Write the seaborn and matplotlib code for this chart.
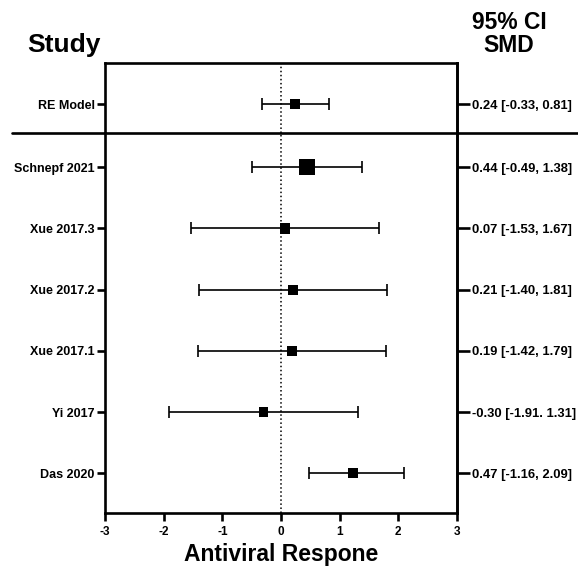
import numpy as np
import pandas as pd
import matplotlib
matplotlib.use('Agg')
import matplotlib.pyplot as plt
from matplotlib.lines import Line2D
import seaborn as sns

# данные forest plot
studies = ['Schnepf 2021', 'Xue 2017.3', 'Xue 2017.2', 'Xue 2017.1', 'Yi 2017', 'Das 2020']
smd = [0.44, 0.07, 0.21, 0.19, -0.30, 1.23]
ci_low = [-0.49, -1.53, -1.40, -1.42, -1.91, 0.47]
ci_high = [1.38, 1.67, 1.81, 1.79, 1.31, 2.09]
weights = [26.0, 15.0, 15.0, 15.0, 14.0, 15.0]
ci_labels = ['0.44 [-0.49, 1.38]', '0.07 [-1.53, 1.67]', '0.21 [-1.40, 1.81]',
             '0.19 [-1.42, 1.79]', '-0.30 [-1.91. 1.31]', '0.47 [-1.16, 2.09]']

pooled_name = ['RE Model']
pooled_smd = [0.24]
pooled_low = [-0.33]
pooled_high = [0.81]
pooled_weight = [15.0]
pooled_labels = ['0.24 [-0.33, 0.81]']

x_ticks = [-3, -2, -1, 0, 1, 2, 3]

sns.set_style('ticks')
plt.rcParams['font.family'] = ['Liberation Sans', 'DejaVu Sans']
plt.rcParams['font.weight'] = 'bold'
for key in ['axes.edgecolor', 'text.color', 'xtick.color', 'ytick.color', 'axes.labelcolor']:
    plt.rcParams[key] = 'black'

df = pd.DataFrame({'study': studies, 'smd': smd, 'low': ci_low, 'high': ci_high,
                   'weight': weights, 'label': ci_labels})
df['row'] = np.arange(len(df))
pool = pd.DataFrame({'study': pooled_name, 'smd': pooled_smd, 'low': pooled_low,
                     'high': pooled_high, 'weight': pooled_weight, 'label': pooled_labels})
pool['row'] = 0

fig = plt.figure(figsize=(5.78, 5.68), dpi=100)
ax_top = fig.add_axes([0.1817, 0.7658, 0.6090, 0.1232])
ax_bot = fig.add_axes([0.1817, 0.0968, 0.6090, 0.6690])

size_norm = (min(weights), max(weights))
marker_sizes = (45, 135)


def draw_rows(ax, data):
    ax.axvline(0, ls=':', color='black', lw=1.1, zorder=1)
    ax.errorbar(x=data['smd'], y=data['row'],
                xerr=[data['smd'] - data['low'], data['high'] - data['smd']],
                fmt='none', ecolor='black', elinewidth=1.2, capsize=4.2, capthick=1.2, zorder=2)
    sns.scatterplot(data=data, x='smd', y='row', size='weight', sizes=marker_sizes,
                    size_norm=size_norm, marker='s', color='black', linewidth=0,
                    legend=False, ax=ax, zorder=3)
    ax.set_xlim(-3, 3)
    ax.set_xlabel('')
    ax.set_ylabel('')
    ax.set_yticks(data['row'])
    ax.set_yticklabels(data['study'], fontsize=9, fontweight='bold')
    ax.tick_params(axis='y', length=5.5, width=1.9, pad=2)
    for s in ax.spines.values():
        s.set_linewidth(1.9)

    # правая колонка с доверительными интервалами
    ax_r = ax.twinx()
    ax_r.set_ylim(ax.get_ylim())
    ax_r.set_yticks(data['row'])
    ax_r.set_yticklabels(data['label'], fontsize=9.4, fontweight='bold')
    ax_r.tick_params(axis='y', length=9.5, width=1.9, pad=1)
    for name, s in ax_r.spines.items():
        s.set_visible(name == 'right')
        s.set_linewidth(1.9)
    return ax_r


# верхняя панель - объединённая оценка
ax_top.set_ylim(-0.47, 0.67)
draw_rows(ax_top, pool)
ax_top.set_xticks([])
ax_top.spines['bottom'].set_visible(False)

# нижняя панель - исследования
ax_bot.set_ylim(5.65, -0.56)
draw_rows(ax_bot, df)
ax_bot.spines['top'].set_visible(False)
ax_bot.set_xticks(x_ticks)
ax_bot.set_xticklabels([str(t) for t in x_ticks], fontsize=8.5, fontweight='bold')
ax_bot.tick_params(axis='x', length=5.8, width=1.9, pad=3.5)
ax_bot.set_xlabel('Antiviral Respone', fontsize=16.5, fontweight='bold', labelpad=4)

# разделительная линия
fig.add_artist(Line2D([12 / 578, 1.0], [0.7658, 0.7658], color='black', lw=1.9,
                      transform=fig.transFigure))

fig.text(27 / 578, 1 - 52 / 568, 'Study', fontsize=19, fontweight='bold',
         ha='left', va='baseline')
fig.text(509 / 578, 1 - 34 / 568, '95% CI\nSMD', fontsize=16.5, fontweight='bold',
         ha='center', va='center', linespacing=1.05)

plt.savefig('out.png', dpi=100)
plt.close()
